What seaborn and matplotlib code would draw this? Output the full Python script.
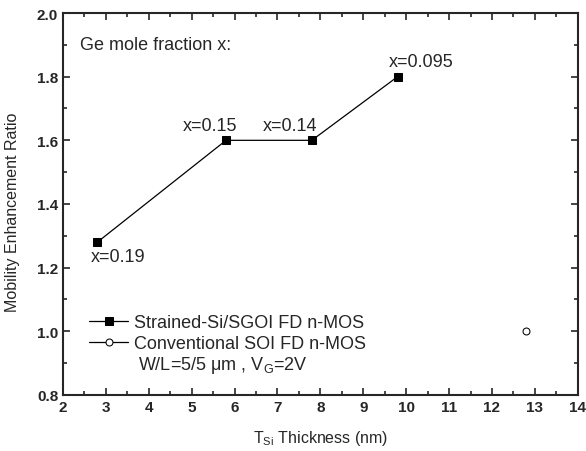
import numpy as np
import pandas as pd
import seaborn as sns
import matplotlib.pyplot as plt
from matplotlib.ticker import MultipleLocator

# strained-Si/SGOI devices
tsi_sgoi = [2.8, 5.8, 7.8, 9.8]
ratio_sgoi = [1.28, 1.60, 1.60, 1.80]
ge_labels = ['x=0.19', 'x=0.15', 'x=0.14', 'x=0.095']

# conventional SOI reference
tsi_soi = [12.8]
ratio_soi = [1.0]

sns.set_style('ticks')
plt.rcParams['font.family'] = ['Liberation Sans', 'DejaVu Sans']
plt.rcParams['mathtext.fontset'] = 'custom'
plt.rcParams['mathtext.rm'] = 'Liberation Sans'
plt.rcParams['mathtext.it'] = 'Liberation Sans'

fig = plt.figure(figsize=(5.86, 4.52), dpi=100)
ax = fig.add_axes([0.1075, 0.124, 0.8785, 0.845])

sgoi = pd.DataFrame({'tsi': tsi_sgoi, 'ratio': ratio_sgoi})
soi = pd.DataFrame({'tsi': tsi_soi, 'ratio': ratio_soi})

sns.lineplot(data=sgoi, x='tsi', y='ratio', ax=ax, color='black', lw=0.9,
             marker='s', markersize=6, markeredgecolor='black',
             label='Strained-Si/SGOI FD n-MOS')
sns.lineplot(data=soi, x='tsi', y='ratio', ax=ax, color='black', lw=0.9,
             marker='o', markersize=5, markerfacecolor='white',
             markeredgecolor='black', label='Conventional SOI FD n-MOS')

# Ge mole fraction annotations
offsets = [(0.48, -0.044), (-0.37, 0.048), (-0.5, 0.048), (0.55, 0.049)]
for xv, yv, lab, (dx, dy) in zip(tsi_sgoi, ratio_sgoi, ge_labels, offsets):
    ax.text(xv + dx, yv + dy, lab, ha='center', va='center', fontsize=13)

ax.text(2.4, 1.90, 'Ge mole fraction x:', ha='left', va='center', fontsize=13)
ax.text(3.75, 0.897, r'W/L=5/5 $\mu$m , V$_{\mathrm{G}}$=2V', ha='left',
        va='center', fontsize=13)

ax.set_xlim(2, 14)
ax.set_ylim(0.8, 2.0)
ax.xaxis.set_major_locator(MultipleLocator(1))
ax.xaxis.set_minor_locator(MultipleLocator(0.5))
ax.yaxis.set_major_locator(MultipleLocator(0.2))
ax.yaxis.set_minor_locator(MultipleLocator(0.1))
ax.tick_params(which='both', direction='in', top=True, right=True, width=1.2)
ax.tick_params(which='major', length=5, labelsize=11)
ax.tick_params(which='minor', length=3)
for lab in ax.get_xticklabels() + ax.get_yticklabels():
    lab.set_fontweight('bold')
for sp in ax.spines.values():
    sp.set_linewidth(1.5)

ax.set_xlabel(r'T$_{\mathrm{Si}}$ Thickness (nm)', fontsize=11.5, labelpad=10)
ax.set_ylabel('Mobility Enhancement Ratio', fontsize=11.5, labelpad=10)
ax.yaxis.set_label_coords(-0.083, 0.48)

ax.legend(loc='upper left', bbox_to_anchor=(0.05, 0.212), frameon=False,
          fontsize=13, handlelength=2.2, handletextpad=0.3, labelspacing=0.25,
          borderaxespad=0.0, borderpad=0.0)

fig.savefig('out.png', dpi=100)
